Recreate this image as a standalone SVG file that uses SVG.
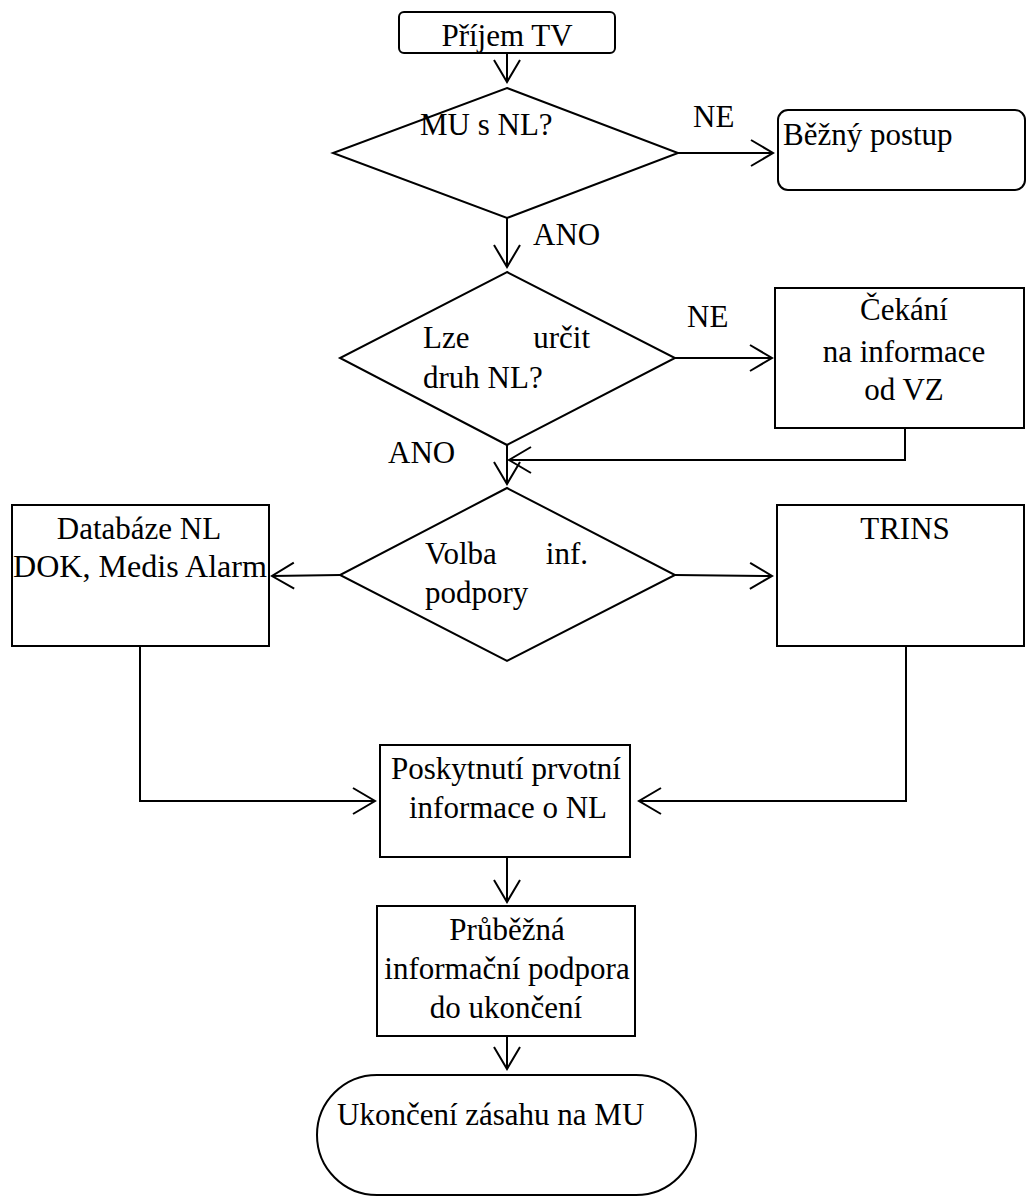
<svg xmlns="http://www.w3.org/2000/svg" width="1026" height="1197" viewBox="0 0 1026 1197">
<style>
  .shape { fill: #ffffff; stroke: #000000; stroke-width: 2; }
  .conn { fill: none; stroke: #000000; stroke-width: 2; }
  text { font-family: "Liberation Serif", "Times New Roman", serif; font-size: 31px; fill: #000000; }
  .c { text-anchor: middle; }
  .e { text-anchor: end; }
</style>
<defs>
  <marker id="arr" markerUnits="userSpaceOnUse" markerWidth="30" markerHeight="30" viewBox="-25 -15 30 30" refX="0" refY="0" orient="auto">
    <path d="M-22,-13 L0,0 L-22,13" fill="none" stroke="#000000" stroke-width="2"/>
  </marker>
</defs>
<rect width="1026" height="1197" fill="#ffffff"/>

<g id="connectors">
  <path class="conn" d="M507,53 L507,82" marker-end="url(#arr)"/>
  <path class="conn" d="M678,153 L773,153" marker-end="url(#arr)"/>
  <path class="conn" d="M507,218 L507,267" marker-end="url(#arr)"/>
  <path class="conn" d="M675,358 L772,358" marker-end="url(#arr)"/>
  <path class="conn" d="M905,428 L905,460 L509,460" marker-end="url(#arr)"/>
  <path class="conn" d="M507,445 L507,484" marker-end="url(#arr)"/>
  <path class="conn" d="M340,575 L272,576" marker-end="url(#arr)"/>
  <path class="conn" d="M675,575 L772,576" marker-end="url(#arr)"/>
  <path class="conn" d="M140,646 L140,801 L375,801" marker-end="url(#arr)"/>
  <path class="conn" d="M906,646 L906,801 L639,801" marker-end="url(#arr)"/>
  <path class="conn" d="M507,857 L507,902" marker-end="url(#arr)"/>
  <path class="conn" d="M507,1036 L507,1069" marker-end="url(#arr)"/>
  <text x="693" y="127">NE</text>
  <text x="533" y="245">ANO</text>
  <text x="687" y="327">NE</text>
  <text x="388" y="463">ANO</text>
</g>

<g id="start">
  <rect class="shape" x="399" y="12" width="216" height="41" rx="5"/>
  <text class="c" x="507" y="46">Příjem TV</text>
</g>

<g id="d1">
  <polygon class="shape" points="507,88 678,153 507,218 333,153"/>
  <text x="420" y="135">MU s NL?</text>
</g>

<g id="bezny">
  <rect class="shape" x="778" y="110" width="247" height="80" rx="10"/>
  <text x="783" y="145">Běžný postup</text>
</g>

<g id="d2">
  <polygon class="shape" points="507,272 675,358 507,445 340,358"/>
  <text x="423" y="348">Lze</text>
  <text class="e" x="590" y="348">určit</text>
  <text x="423" y="388">druh NL?</text>
</g>

<g id="cekani">
  <rect class="shape" x="775" y="288" width="249" height="140"/>
  <text class="c" x="904" y="320">Čekání</text>
  <text class="c" x="904" y="362">na informace</text>
  <text class="c" x="904" y="400">od VZ</text>
</g>

<g id="d3">
  <polygon class="shape" points="507,488 675,575 507,661 340,575"/>
  <text x="425" y="564">Volba</text>
  <text class="e" x="588" y="564">inf.</text>
  <text x="425" y="603">podpory</text>
</g>

<g id="databaze">
  <rect class="shape" x="12" y="505" width="257" height="141"/>
  <text class="c" x="139" y="539">Databáze NL</text>
  <text class="c" x="140" y="577" textLength="254" lengthAdjust="spacingAndGlyphs">DOK, Medis Alarm</text>
</g>

<g id="trins">
  <rect class="shape" x="777" y="505" width="247" height="141"/>
  <text class="c" x="905" y="539">TRINS</text>
</g>

<g id="poskytnuti">
  <rect class="shape" x="380" y="745" width="250" height="112"/>
  <text class="c" x="506" y="779">Poskytnutí prvotní</text>
  <text class="c" x="508" y="818">informace o NL</text>
</g>

<g id="prubezna">
  <rect class="shape" x="377" y="906" width="258" height="130"/>
  <text class="c" x="507" y="940">Průběžná</text>
  <text class="c" x="507" y="979">informační podpora</text>
  <text class="c" x="506" y="1018">do ukončení</text>
</g>

<g id="end">
  <rect class="shape" x="317" y="1075" width="379" height="120" rx="60" ry="60"/>
  <text x="337" y="1125">Ukončení zásahu na MU</text>
</g>
</svg>
